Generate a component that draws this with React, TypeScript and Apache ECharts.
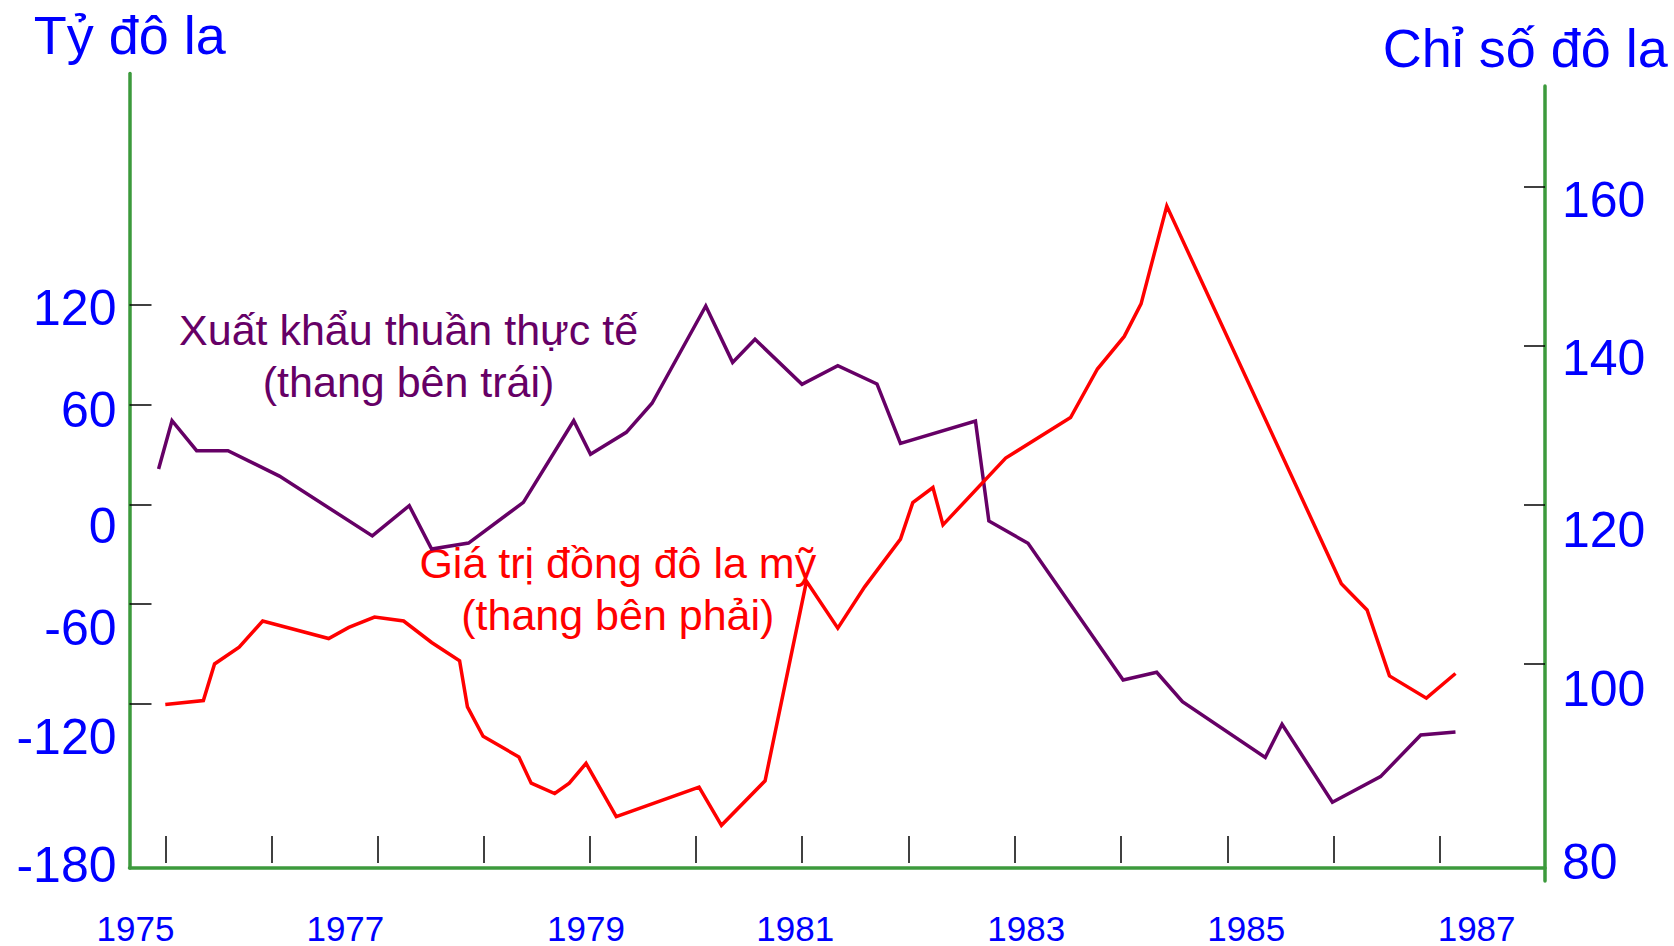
import React, { useEffect, useRef } from "react";
import * as echarts from "echarts";

// ---- Data (years as decimal positions on the time axis) ----
const netExportYears = [1975.26, 1975.38, 1975.6, 1975.88, 1976.34, 1977.17, 1977.5, 1977.7, 1978.03, 1978.52, 1978.97, 1979.12, 1979.44, 1979.67, 1980.15, 1980.39, 1980.59, 1981.01, 1981.33, 1981.68, 1981.89, 1982.56, 1982.68, 1983.03, 1983.88, 1984.18, 1984.41, 1985.15, 1985.3, 1985.75, 1986.18, 1986.54, 1986.85];
const netExportValues = [21.4, 50.4, 32.4, 32.4, 17.1, -18.9, -0.7, -26.8, -23.2, 1.3, 50.4, 30.2, 43.4, 60.9, 119.4, 85.5, 99.4, 72.3, 83.5, 72.5, 36.8, 50.2, -9.9, -23.3, -105.6, -100.9, -118.6, -152.2, -132.2, -179.1, -163.7, -138.6, -136.8];

const dollarYears = [1975.32, 1975.66, 1975.76, 1975.98, 1976.19, 1976.78, 1976.96, 1977.19, 1977.45, 1977.7, 1977.95, 1978.02, 1978.16, 1978.48, 1978.59, 1978.8, 1978.93, 1979.08, 1979.35, 1980.09, 1980.29, 1980.68, 1981.05, 1981.33, 1981.57, 1981.89, 1982.0, 1982.18, 1982.27, 1982.83, 1983.41, 1983.65, 1983.89, 1984.04, 1984.27, 1985.83, 1986.06, 1986.26, 1986.59, 1986.85];
const dollarValues = [94.9, 95.4, 100.0, 102.1, 105.4, 103.2, 104.6, 105.9, 105.4, 102.7, 100.4, 94.6, 90.9, 88.3, 85.0, 83.7, 85.0, 87.5, 80.8, 84.5, 79.7, 85.3, 110.4, 104.5, 109.7, 115.7, 120.3, 122.2, 117.5, 125.9, 131.0, 137.1, 141.2, 145.3, 157.6, 110.1, 106.8, 98.5, 95.7, 98.8];

// x-axis tick marks and year labels (positions on the time axis)
const xTickPositions = [1975.32, 1976.267, 1977.218, 1978.165, 1979.113, 1980.06, 1981.011, 1981.962, 1982.909, 1983.856, 1984.811, 1985.758, 1986.705];
const yearLabelPositions = [1975.054, 1976.929, 1979.08, 1980.949, 1983.014, 1984.98, 1987.039];
const yearLabels = ["1975", "1977", "1979", "1981", "1983", "1985", "1987"];

// left axis (Tỷ đô la)
const leftTicks = [120, 60, 0, -60, -120];
const leftLabelPositions = [118.0, 56.8, -12.7, -74.5, -139.7, -216.8];
const leftLabels = ["120", "60", "0", "-60", "-120", "-180"];

// right axis (Chỉ số đô la)
const rightTicks = [160, 140, 120, 100];
const rightLabelPositions = [158.4, 138.5, 116.9, 96.8, 75.1];
const rightLabels = ["160", "140", "120", "100", "80"];

const FONT = '"Liberation Sans", Arial, sans-serif';
const GREEN = "#3c9a3c";
const BLUE = "#0000ff";
const PURPLE = "#660066";
const RED = "#ff0000";

function lookup(positions: number[], labels: string[]) {
  return (v: number) => {
    let best = 0;
    let bd = Infinity;
    positions.forEach((p, i) => {
      const d = Math.abs(p - v);
      if (d < bd) { bd = d; best = i; }
    });
    return labels[best];
  };
}

export default function App() {
  const ref = useRef<HTMLDivElement>(null);
  useEffect(() => {
    if (!ref.current) return;
    const chart = echarts.init(ref.current, undefined, { renderer: "svg" });
    const xMin = 1975;
    const xMax = 1987.65;
    chart.setOption({
      animation: false,
      backgroundColor: "#ffffff",
      grid: [
        { left: 129.5, right: 129, top: 73.5, bottom: 78 },
        { left: 129.5, right: 129, top: 86, bottom: 65 },
      ],
      xAxis: [
        {
          gridIndex: 0, type: "value", position: "bottom", min: xMin, max: xMax,
          axisLine: { show: true, onZero: false, lineStyle: { color: GREEN, width: 3.5 } },
          axisTick: { show: false },
          splitLine: { show: false },
          axisLabel: {
            customValues: yearLabelPositions,
            formatter: lookup(yearLabelPositions, yearLabels),
            color: BLUE, fontSize: 35, lineHeight: 24, fontFamily: FONT, margin: 48,
          },
        },
        {
          gridIndex: 0, type: "value", position: "bottom", min: xMin, max: xMax, offset: -5,
          axisLine: { show: false, onZero: false },
          axisTick: { show: true, inside: true, length: 27, customValues: xTickPositions, lineStyle: { color: "#000", width: 1.5 } },
          axisLabel: { show: false },
          splitLine: { show: false },
        },
        { gridIndex: 1, type: "value", min: xMin, max: xMax, show: false, axisLine: { onZero: false } },
      ],
      yAxis: [
        {
          gridIndex: 0, type: "value", position: "left", min: -218.65, max: 259.25,
          axisLine: { show: true, onZero: false, lineStyle: { color: GREEN, width: 3.5 } },
          axisTick: { show: true, inside: true, length: 22, customValues: leftTicks, lineStyle: { color: "#000", width: 1.5 } },
          splitLine: { show: false },
          axisLabel: {
            customValues: leftLabelPositions,
            formatter: lookup(leftLabelPositions, leftLabels),
            color: BLUE, fontSize: 50, fontFamily: FONT, margin: 13,
          },
        },
        {
          gridIndex: 1, type: "value", position: "right", min: 72.7, max: 172.7,
          axisLine: { show: true, onZero: false, lineStyle: { color: GREEN, width: 3.5 } },
          axisTick: { show: true, inside: true, length: 21, customValues: rightTicks, lineStyle: { color: "#000", width: 1.5 } },
          splitLine: { show: false },
          axisLabel: {
            customValues: rightLabelPositions,
            formatter: lookup(rightLabelPositions, rightLabels),
            color: BLUE, fontSize: 50, fontFamily: FONT, margin: 17,
          },
        },
      ],
      series: [
        {
          name: "Xuất khẩu thuần thực tế", type: "line", xAxisIndex: 0, yAxisIndex: 0,
          data: netExportYears.map((x, i) => [x, netExportValues[i]]),
          showSymbol: false, symbol: "none",
          lineStyle: { color: PURPLE, width: 3.5, join: "miter" },
        },
        {
          name: "Giá trị đồng đô la mỹ", type: "line", xAxisIndex: 2, yAxisIndex: 1,
          data: dollarYears.map((x, i) => [x, dollarValues[i]]),
          showSymbol: false, symbol: "none",
          lineStyle: { color: RED, width: 3.5, join: "miter" },
        },
      ],
      graphic: [
        { type: "text", x: 33.7, y: 35.3, style: { text: "Tỷ đô la", fill: BLUE, fontSize: 54, fontFamily: FONT, align: "left", verticalAlign: "middle" } },
        { type: "text", x: 1382.7, y: 48, style: { text: "Chỉ số đô la", fill: BLUE, fontSize: 54, fontFamily: FONT, align: "left", verticalAlign: "middle" } },
        { type: "text", x: 408.6, y: 330, style: { text: "Xuất khẩu thuần thực tế", fill: PURPLE, fontSize: 43, fontFamily: FONT, align: "center", verticalAlign: "middle" } },
        { type: "text", x: 408.6, y: 382.4, style: { text: "(thang bên trái)", fill: PURPLE, fontSize: 43, fontFamily: FONT, align: "center", verticalAlign: "middle" } },
        { type: "text", x: 617.8, y: 563.4, style: { text: "Giá trị đồng đô la mỹ", fill: RED, fontSize: 43, fontFamily: FONT, align: "center", verticalAlign: "middle" } },
        { type: "text", x: 617.8, y: 615, style: { text: "(thang bên phải)", fill: RED, fontSize: 43, fontFamily: FONT, align: "center", verticalAlign: "middle" } },
      ],
    });
    return () => chart.dispose();
  }, []);
  return <div ref={ref} style={{ position: "fixed", left: 0, top: 0, width: 1674, height: 946 }} />;
}
